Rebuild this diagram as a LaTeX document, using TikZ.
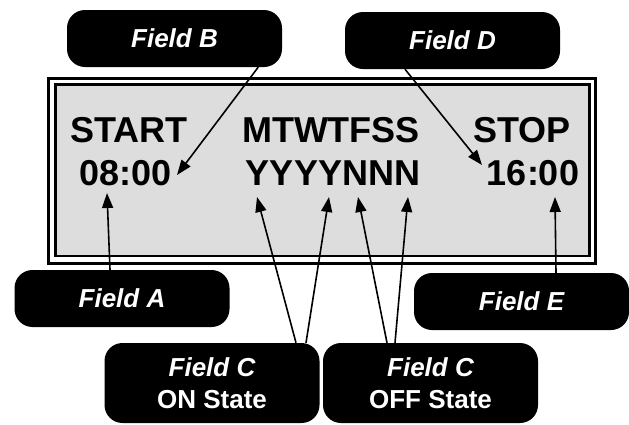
\documentclass[tikz,border=0pt]{standalone}
\usepackage{fontspec}
\setmainfont{Liberation Sans}
\usetikzlibrary{arrows.meta}
\definecolor{lcdgray}{RGB}{221,221,221}
\begin{document}
\begin{tikzpicture}[x=1pt,y=-1pt,
  label box/.style={fill=black,text=white,rounded corners=18pt,minimum width=215pt,inner sep=0pt,align=center,font=\fontsize{26}{32}\selectfont\bfseries},
  single/.style={label box,minimum height=57pt},
  double/.style={label box,minimum height=80pt},
  lcd/.style={font=\fontsize{36}{40}\selectfont\bfseries,inner sep=0pt,anchor=base},
  pointer/.style={line width=1.6pt,-{Triangle[length=15pt,width=11pt]}}]
\useasboundingbox (0,0) rectangle (629,424);
% display frame
\draw[line width=3pt,fill=white] (48.5,78.5) rectangle (595.5,263.5);
\draw[line width=2.5pt,fill=lcdgray] (55.5,84.5) rectangle (589.5,256);
% display texts
\node[lcd] (start) at (129,142) {START};
\node[lcd] (t08) at (126,185) {08:00};
\node[lcd] (days) at (331,142) {MTWTFSS};
\node[lcd] (yn) at (333,185) {YYYYNNN};
\node[lcd] (stop) at (522,142) {STOP};
\node[lcd] (t16) at (533,185) {16:00};
% labels
\node[single] (fb) at (174.5,38.5) {\itshape Field B};
\node[single] (fd) at (452.5,40.5) {\itshape Field D};
\node[single] (fa) at (122,298.5) {\itshape Field A};
\node[single] (fe) at (521.5,301.5) {\itshape Field E};
\node[double] (fcon) at (212,383) {{\itshape Field C}\\ON State};
\node[double] (fcoff) at (430.5,383) {{\itshape Field C}\\OFF State};
% arrow tips
\coordinate (tb) at (177,175);
\coordinate (ta) at (107,193);
\coordinate (td) at (482,165);
\coordinate (te) at (555,197);
\coordinate (ton1) at (257,197);
\coordinate (ton2) at (329,197);
\coordinate (toff1) at (358,197);
\coordinate (toff2) at (408,197);
% connectors
\draw[pointer] ([xshift=-24pt]fb.south east) -- (tb);
\draw[pointer] ([xshift=-12pt]fa.north) -- (ta);
\draw[pointer] ([xshift=-47.5pt]fd.south) -- (td);
\draw[pointer] ([xshift=34.5pt]fe.north) -- (te);
\draw[pointer] ([xshift=84pt]fcon.north) -- (ton1);
\draw[pointer] ([xshift=94pt]fcon.north) -- (ton2);
\draw[pointer] ([xshift=-43.5pt]fcoff.north) -- (toff1);
\draw[pointer] ([xshift=-35.5pt]fcoff.north) -- (toff2);
\end{tikzpicture}
\end{document}
